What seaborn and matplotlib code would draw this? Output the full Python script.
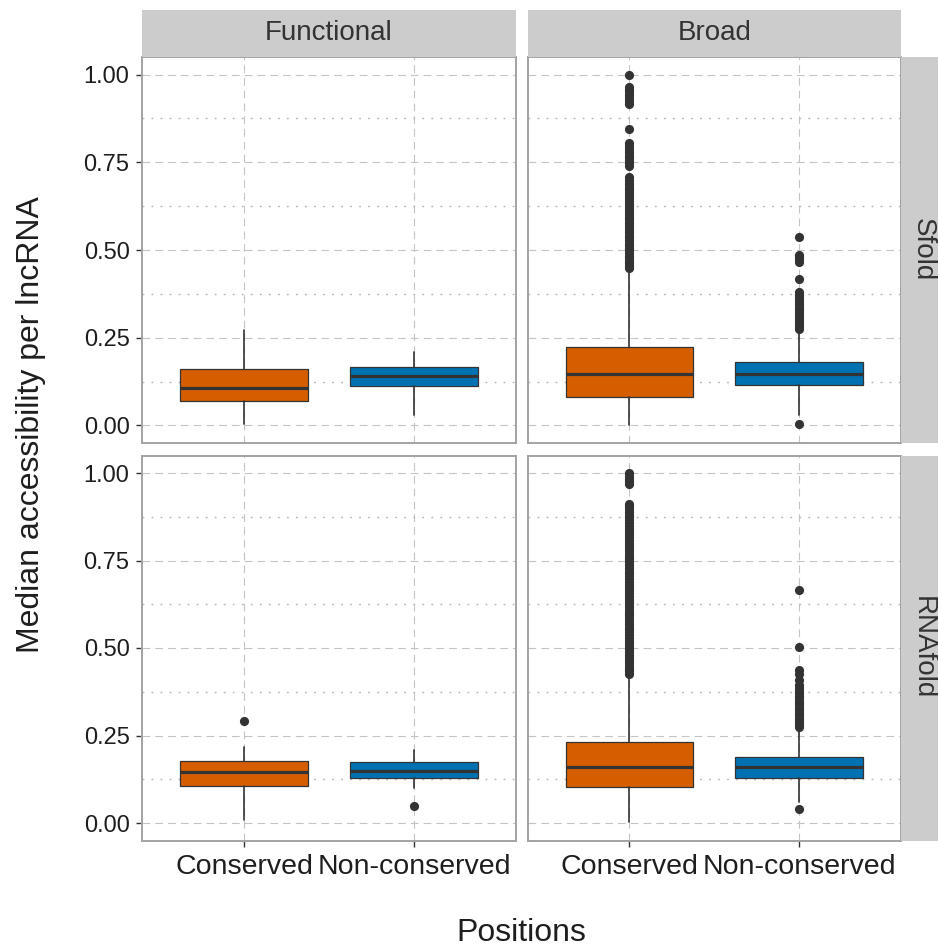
import matplotlib
matplotlib.use("Agg")
import matplotlib.pyplot as plt
import seaborn as sns

# ---------------------------------------------------------------------------
# Data: median accessibility per lncRNA, summarised per facet
# ---------------------------------------------------------------------------
methods = ["Sfold", "RNAfold"]            # facet rows
gene_sets = ["Functional", "Broad"]       # facet columns
positions = ["Conserved", "Non-conserved"]
box_colors = ["#D55E00", "#0072B2"]

y_ticks = [0.00, 0.25, 0.50, 0.75, 1.00]
y_tick_labels = ["0.00", "0.25", "0.50", "0.75", "1.00"]
y_minor_ticks = [0.125, 0.375, 0.625, 0.875]

# Box summaries, per (method, gene set): [Conserved, Non-conserved]
lower_whisker = {
    ("Sfold", "Functional"): [0.005, 0.031],
    ("Sfold", "Broad"): [0.000, 0.030],
    ("RNAfold", "Functional"): [0.010, 0.099],
    ("RNAfold", "Broad"): [0.002, 0.060],
}
first_quartile = {
    ("Sfold", "Functional"): [0.069, 0.112],
    ("Sfold", "Broad"): [0.081, 0.116],
    ("RNAfold", "Functional"): [0.107, 0.129],
    ("RNAfold", "Broad"): [0.102, 0.129],
}
median = {
    ("Sfold", "Functional"): [0.108, 0.142],
    ("Sfold", "Broad"): [0.147, 0.147],
    ("RNAfold", "Functional"): [0.147, 0.149],
    ("RNAfold", "Broad"): [0.159, 0.159],
}
third_quartile = {
    ("Sfold", "Functional"): [0.160, 0.168],
    ("Sfold", "Broad"): [0.223, 0.180],
    ("RNAfold", "Functional"): [0.176, 0.173],
    ("RNAfold", "Broad"): [0.231, 0.188],
}
upper_whisker = {
    ("Sfold", "Functional"): [0.273, 0.209],
    ("Sfold", "Broad"): [0.445, 0.270],
    ("RNAfold", "Functional"): [0.218, 0.209],
    ("RNAfold", "Broad"): [0.421, 0.268],
}

# Outlying lncRNAs
sfold_broad_conserved_out = [
    0.448, 0.455, 0.462, 0.470, 0.477, 0.484, 0.492, 0.499, 0.506, 0.514,
    0.521, 0.528, 0.536, 0.543, 0.551, 0.558, 0.565, 0.573, 0.580, 0.588,
    0.595, 0.602, 0.610, 0.617, 0.625, 0.632, 0.640, 0.647, 0.655, 0.662,
    0.670, 0.677, 0.685, 0.692, 0.700, 0.708,
    0.740, 0.748, 0.756, 0.764, 0.772, 0.780, 0.789, 0.797, 0.805,
    0.845,
    0.917, 0.925, 0.933, 0.941, 0.949, 0.957, 0.964,
    0.998,
]
sfold_broad_nonconserved_out = [
    0.003,
    0.276, 0.283, 0.290, 0.298, 0.305, 0.313, 0.320, 0.328, 0.335, 0.343,
    0.350, 0.358, 0.365, 0.372, 0.380,
    0.417,
    0.466, 0.473, 0.480, 0.487,
    0.537,
]
rnafold_broad_conserved_out = [
    0.425, 0.433, 0.441, 0.449, 0.457, 0.465, 0.473, 0.481, 0.489, 0.497,
    0.505, 0.513, 0.521, 0.529, 0.537, 0.545, 0.553, 0.561, 0.569, 0.577,
    0.585, 0.593, 0.601, 0.609, 0.617, 0.625, 0.633, 0.641, 0.649, 0.657,
    0.665, 0.673, 0.681, 0.689, 0.697, 0.705, 0.713, 0.721, 0.729, 0.737,
    0.745, 0.753, 0.761, 0.769, 0.777, 0.785, 0.793, 0.801, 0.809, 0.817,
    0.825, 0.833, 0.841, 0.849, 0.857, 0.865, 0.873, 0.881, 0.889, 0.897,
    0.905, 0.912,
    0.969, 0.976, 0.984, 0.992, 1.000,
]
rnafold_broad_nonconserved_out = [
    0.040,
    0.273, 0.280, 0.287, 0.294, 0.301, 0.308, 0.315, 0.322, 0.329, 0.336,
    0.343, 0.350, 0.357, 0.364, 0.371, 0.378, 0.386, 0.395, 0.410, 0.425,
    0.436,
    0.502,
    0.667,
]
outliers = {
    ("Sfold", "Functional"): [[], []],
    ("Sfold", "Broad"): [sfold_broad_conserved_out, sfold_broad_nonconserved_out],
    ("RNAfold", "Functional"): [[0.292], [0.050]],
    ("RNAfold", "Broad"): [rnafold_broad_conserved_out, rnafold_broad_nonconserved_out],
}

# ---------------------------------------------------------------------------
# Styling
# ---------------------------------------------------------------------------
sns.set_theme(style="white")
plt.rcParams["font.family"] = ["Liberation Sans", "DejaVu Sans"]

W, H = 938, 951
fig = plt.figure(figsize=(W / 100, H / 100), dpi=100)
fig.patch.set_facecolor("white")

ink = "#333333"
text_col = "#1e1e1e"
strip_col = "#cccccc"
border_col = "#a3a3a3"

# panel geometry in pixels: (left, right) per column, (top, bottom) per row
col_px = [(142, 516), (527.5, 901)]
row_px = [(57, 443), (455.5, 840.5)]
strip_top_px = (10, 57)
strip_right_px = (901, 944)


def px_rect(x0, x1, y0, y1):
    return [x0 / W, (H - y1) / H, (x1 - x0) / W, (y1 - y0) / H]


for r, method in enumerate(methods):
    for c, gset in enumerate(gene_sets):
        ax = fig.add_axes(px_rect(*col_px[c], *row_px[r]))
        key = (method, gset)
        stats = []
        for i, pos in enumerate(positions):
            stats.append(dict(
                label=pos,
                whislo=lower_whisker[key][i],
                q1=first_quartile[key][i],
                med=median[key][i],
                q3=third_quartile[key][i],
                whishi=upper_whisker[key][i],
                fliers=outliers[key][i],
            ))
        res = ax.bxp(
            stats, positions=[1, 2], widths=0.75, patch_artist=True,
            showcaps=False,
            boxprops=dict(edgecolor=ink, linewidth=0.9),
            medianprops=dict(color=ink, linewidth=2.3, solid_capstyle="butt"),
            whiskerprops=dict(color=ink, linewidth=1.2),
            flierprops=dict(marker="o", markerfacecolor=ink,
                            markeredgecolor="none", markersize=6.6),
        )
        for patch, col in zip(res["boxes"], box_colors):
            patch.set_facecolor(col)
            patch.set_zorder(2)

        ax.set_xlim(0.4, 2.6)
        ax.set_ylim(-0.05, 1.05)
        ax.set_facecolor("white")
        ax.set_axisbelow(True)

        ax.set_yticks(y_ticks)
        ax.set_yticks(y_minor_ticks, minor=True)
        ax.set_xticks([1, 2])
        ax.grid(True, which="major", axis="both", color="#c4c4c4",
                linewidth=0.8, linestyle=(0, (7, 4.5)))
        ax.grid(True, which="minor", axis="y", color="#b5b5b5",
                linewidth=1.0, linestyle=(0, (1.3, 5.2)))
        ax.tick_params(which="minor", length=0)

        if c == 0:
            ax.set_yticklabels(y_tick_labels, fontsize=17, color=text_col)
            ax.tick_params(axis="y", which="major", length=4, width=1,
                           color=ink, pad=5, left=True)
        else:
            ax.tick_params(axis="y", which="major", left=False,
                           labelleft=False)
        if r == len(methods) - 1:
            ax.set_xticklabels(positions, fontsize=20.5, color=text_col)
            ax.tick_params(axis="x", which="major", length=4, width=1,
                           color=ink, pad=5.5, bottom=True)
        else:
            ax.tick_params(axis="x", which="major", bottom=False,
                           labelbottom=False)

        for sp in ax.spines.values():
            sp.set_visible(True)
            sp.set_color(border_col)
            sp.set_linewidth(1.4)

        # column strip on top row
        if r == 0:
            sax = fig.add_axes(px_rect(*col_px[c], *strip_top_px))
            sax.set_facecolor(strip_col)
            sax.set_xticks([])
            sax.set_yticks([])
            for sp in sax.spines.values():
                sp.set_visible(False)
            sax.text(0.5, 0.5, gset, ha="center", va="center",
                     fontsize=20, color=ink, transform=sax.transAxes)
        # row strip on right column
        if c == len(gene_sets) - 1:
            sax = fig.add_axes(px_rect(*strip_right_px, *row_px[r]))
            sax.set_facecolor(strip_col)
            sax.set_xticks([])
            sax.set_yticks([])
            for sp in sax.spines.values():
                sp.set_visible(False)
            sax.text(0.5, 0.5, method, ha="center", va="center",
                     rotation=-90, fontsize=20, color=ink,
                     transform=sax.transAxes)

fig.text(521.5 / W, (H - 933) / H, "Positions", ha="center", va="center",
         fontsize=23, color=text_col)
fig.text(31 / W, (H - 425) / H, "Median accessibility per lncRNA",
         ha="center", va="center", rotation=90, fontsize=23, color=text_col)

fig.savefig("out.png", dpi=100, facecolor="white")
